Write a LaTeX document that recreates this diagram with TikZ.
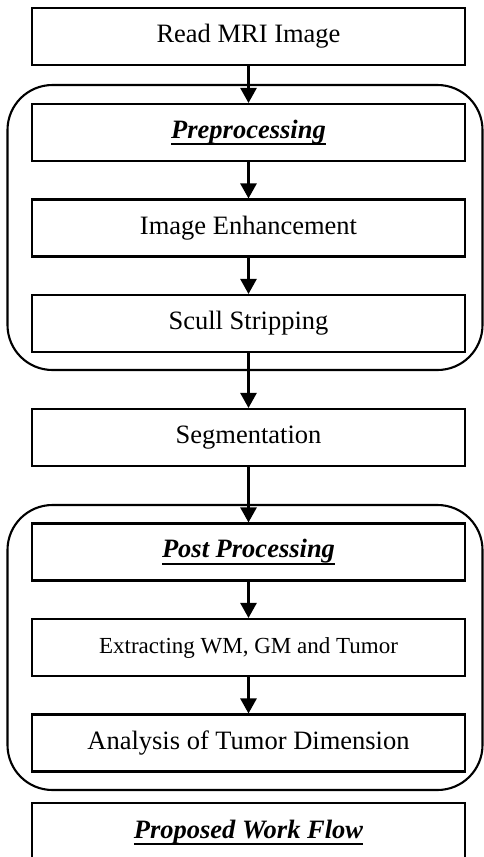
\documentclass[tikz,border=0pt]{standalone}
\usepackage{fontspec}
\setmainfont{Liberation Serif}
\usetikzlibrary{arrows.meta}
\newcommand{\ulbox}[1]{\setbox0=\hbox{#1}\leavevmode\rlap{\rule[-7pt]{\wd0}{2.2pt}}\box0}
\tikzset{
  stepbox/.style={draw, line width=2.1pt, minimum width=433pt, minimum height=57pt, inner sep=0pt,
    font=\fontsize{26.5}{30}\selectfont},
  groupbox/.style={draw, line width=2.1pt, rounded corners=45pt},
  flow/.style={-{Triangle[length=15pt,width=16pt]}, line width=2.6pt},
  titletext/.style={font=\fontsize{26.5}{30}\selectfont\bfseries\itshape}
}
\begin{document}
\begin{tikzpicture}[x=1pt,y=1pt]
\useasboundingbox (0,0) rectangle (484,-857);
% groups
\draw[groupbox] (7.5,-85) rectangle (482.5,-370);
\draw[groupbox] (7.5,-505) rectangle (482.5,-790);
% steps
\node[stepbox] (read) at (248.5,-36.5) {Read MRI Image};
\node[stepbox, titletext] (pre) at (248.5,-132.5) {\ulbox{Preprocessing}};
\node[stepbox] (enh) at (248.5,-228) {Image Enhancement};
\node[stepbox] (scull) at (248.5,-323.5) {Scull Stripping};
\node[stepbox] (seg) at (248.5,-437.5) {Segmentation};
\node[stepbox, titletext] (post) at (248.5,-552) {\ulbox{Post Processing}};
\node[stepbox, font=\fontsize{23}{27}\selectfont] (extr) at (248.5,-647.5) {Extracting WM, GM and Tumor};
\node[stepbox] (anal) at (248.5,-743) {Analysis of Tumor Dimension};
% last open box
\coordinate (pl) at (32,-870);
\coordinate (pr) at (465,-870);
\draw[line width=2.1pt] (pl) -- (32,-803) -- (465,-803) -- (pr);
\node[titletext, anchor=base] (pwf) at (248.5,-838) {\ulbox{Proposed Work Flow}};
% connectors
\draw[flow] (read) -- (pre);
\draw[flow] (pre) -- (enh);
\draw[flow] (enh) -- (scull);
\draw[flow] (scull) -- (seg);
\draw[flow] (seg) -- (post);
\draw[flow] (post) -- (extr);
\draw[flow] (extr) -- (anal);
\end{tikzpicture}
\end{document}
